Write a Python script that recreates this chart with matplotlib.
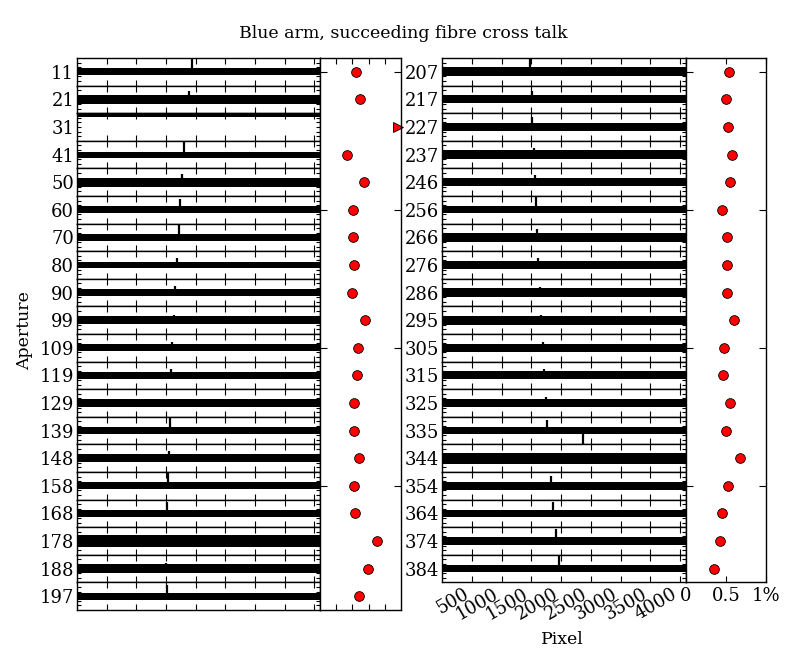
import matplotlib
matplotlib.use('Agg')
import matplotlib.pyplot as plt
import numpy as np

plt.rcParams['font.family'] = 'DejaVu Serif'
plt.rcParams['xtick.direction'] = 'in'
plt.rcParams['ytick.direction'] = 'in'
plt.rcParams['xtick.top'] = True
plt.rcParams['ytick.right'] = True
plt.rcParams['xtick.major.size'] = 4
plt.rcParams['ytick.major.size'] = 4
plt.rcParams['axes.linewidth'] = 1.0

# apertures, blue arm
left_apertures = [11, 21, 31, 41, 50, 60, 70, 80, 90, 99,
                  109, 119, 129, 139, 148, 158, 168, 178, 188, 197]
right_apertures = [207, 217, 227, 237, 246, 256, 266, 276, 286, 295,
                   305, 315, 325, 335, 344, 354, 364, 374, 384]

# cross talk in % (right-hand small panels)
left_crosstalk = [0.45, 0.49, 1.5, 0.33, 0.54, 0.41, 0.41, 0.42, 0.40, 0.56,
                  0.47, 0.46, 0.42, 0.42, 0.48, 0.42, 0.43, 0.70, 0.59, 0.48]
right_crosstalk = [0.54, 0.50, 0.53, 0.58, 0.55, 0.45, 0.51, 0.51, 0.51, 0.60,
                   0.48, 0.46, 0.55, 0.50, 0.68, 0.53, 0.45, 0.43, 0.35]

# spike (neighbour fibre line) position in pixel and height, noise band
left_spike_pix = [1938, 1888, np.nan, 1804, 1770, 1736, 1719, 1686, 1652, 1635,
                  1601, 1585, 1551, 1568, 1551, 1534, 1517, np.nan, 1500, 1517]
left_spike_h = [1.0, 0.6, 0, 1.0, 0.6, 0.8, 0.9, 0.5, 0.5, 0.4,
                0.4, 0.5, 0.3, 0.9, 0.5, 0.9, 0.8, 0, 0.4, 0.8]
left_noise = [0.26, 0.32, 0.15, 0.22, 0.34, 0.26, 0.24, 0.24, 0.26, 0.3,
              0.26, 0.26, 0.26, 0.26, 0.29, 0.26, 0.26, 0.4, 0.34, 0.26]
left_level = [0, 0, 0.88, 0, 0, 0, 0, 0, 0, 0,
              0, 0, 0, 0, 0, 0, 0, 0, 0, 0]

right_spike_pix = [1477, 1511, 1511, 1544, 1561, 1578, 1595, 1611, 1645, 1662,
                   1696, 1712, 1746, 1763, np.nan, 1830, 1863, 1914, 1964]
right_spike_h = [1.0, 0.6, 0.7, 0.5, 0.5, 0.9, 0.6, 0.5, 0.4, 0.4,
                 0.4, 0.5, 0.4, 0.8, 0, 0.7, 0.8, 0.9, 1.0]
right_noise = [0.32, 0.29, 0.32, 0.32, 0.29, 0.24, 0.32, 0.29, 0.32, 0.34,
               0.29, 0.29, 0.32, 0.26, 0.4, 0.29, 0.26, 0.26, 0.24]
right_level = [0] * 19

# downward feature in aperture 335
dip_aperture = [335]
dip_pix = [2367]
dip_depth = [-1.0]

fig = plt.figure(figsize=(8.06, 6.63), dpi=100)

row_h = 27.6 / 663
top = 1 - 58 / 663


def draw_group(x0, w, apertures, spikes, heights, noise, level, show_labels):
    n = len(apertures)
    for i, ap in enumerate(apertures):
        ax = fig.add_axes([x0, top - (i + 1) * row_h, w, row_h])
        lv = level[i]
        ax.fill_between([0, 4096], lv - noise[i], lv + noise[i], color='k', lw=0)
        if not np.isnan(spikes[i]):
            ax.vlines(spikes[i], lv, lv + heights[i], color='k', lw=1.6)
        if ap in dip_aperture:
            k = dip_aperture.index(ap)
            ax.vlines(dip_pix[k], dip_depth[k], lv, color='k', lw=1.6)
        ax.set_xlim(0, 4096)
        ax.set_ylim(-1, 1)
        ax.set_xticks(np.arange(500, 4001, 500))
        ax.set_yticks([-0.66, -0.33, 0, 0.33, 0.66])
        ax.set_yticklabels(['', '', str(ap), '', ''], fontsize=13)
        ax.tick_params(axis='y', length=3, pad=2)
        if i == n - 1 and show_labels:
            ax.set_xticklabels([str(v) for v in range(500, 4001, 500)],
                               rotation=30, ha='right', fontsize=13)
            ax.tick_params(axis='x', pad=2)
        else:
            ax.set_xticklabels([])
    return ax


def draw_dots(x0, w, apertures, values, ticks, labels):
    n = len(apertures)
    ax = fig.add_axes([x0, top - n * row_h, w, n * row_h])
    rows = np.arange(n)
    vals = np.array(values)
    inside = vals <= 1
    ax.plot(vals[inside], rows[inside], 'o', color='red', mec='k', mew=0.6, ms=7)
    # values off the scale are shown as a triangle at the right edge
    ax.plot(np.full((~inside).sum(), 0.965), rows[~inside], '>', color='red',
            mec='k', mew=0.6, ms=7, clip_on=False)
    ax.set_xlim(0, 1)
    ax.set_ylim(n - 0.5, -0.5)
    ax.set_yticks([0, 5, 10, 15])
    ax.set_yticklabels([])
    ax.tick_params(axis='y', length=5)
    ax.set_xticks(ticks)
    if labels:
        ax.set_xticklabels(labels, fontsize=13)
    else:
        ax.set_xticklabels([])
    return ax


draw_group(77 / 806, 243 / 806, left_apertures, left_spike_pix, left_spike_h,
           left_noise, left_level, False)
draw_dots(320 / 806, 81 / 806, left_apertures, left_crosstalk,
          [0.2, 0.4, 0.6, 0.8], None)
draw_group(442 / 806, 244 / 806, right_apertures, right_spike_pix, right_spike_h,
           right_noise, right_level, True)
draw_dots(686 / 806, 80 / 806, right_apertures, right_crosstalk,
          [0, 0.5, 1], ['0', '0.5', '1%'])

fig.text(403 / 806, 1 - 34 / 663, 'Blue arm, succeeding fibre cross talk',
         ha='center', va='center', fontsize=12.5)
fig.text(25 / 806, 1 - 331 / 663, 'Aperture', rotation=90,
         ha='center', va='center', fontsize=12.5)
fig.text(562 / 806, 1 - 640 / 663, 'Pixel', ha='center', va='center', fontsize=12.5)

fig.savefig('out.png', dpi=100)
